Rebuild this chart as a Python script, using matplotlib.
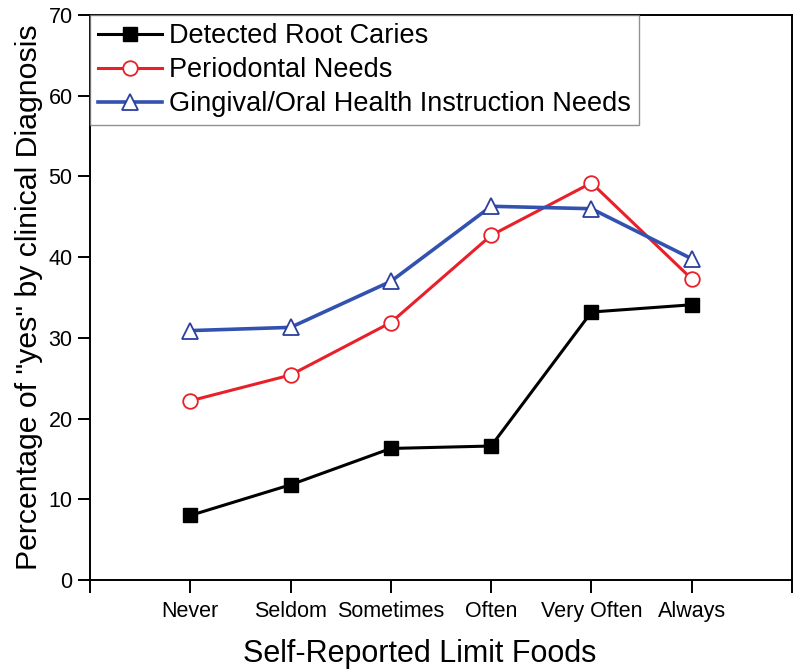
import matplotlib
matplotlib.use("Agg")
import matplotlib.pyplot as plt

plt.rcParams["font.family"] = ["Liberation Sans", "DejaVu Sans"]

categories = ["Never", "Seldom", "Sometimes", "Often", "Very Often", "Always"]
root_caries = [8.0, 11.8, 16.3, 16.6, 33.2, 34.1]
periodontal = [22.2, 25.4, 31.9, 42.7, 49.2, 37.3]
gingival = [30.9, 31.3, 37.0, 46.3, 46.0, 39.8]

x = list(range(1, len(categories) + 1))

fig = plt.figure(figsize=(8, 6.69), dpi=100)
ax = fig.add_axes([0.1125, 0.133, 0.8775, 0.8446])

ax.plot(x, root_caries, color="black", lw=2.2, marker="s", ms=9.5,
        mfc="black", mec="black", label="Detected Root Caries")
ax.plot(x, periodontal, color="#e8202a", lw=2.2, marker="o", ms=10.5,
        mfc="white", mec="#e8202a", mew=1.3, label="Periodontal Needs")
ax.plot(x, gingival, color="#3352b0", lw=2.6, marker="^", ms=12,
        mfc="white", mec="#2a3f9e", mew=1.3,
        label="Gingival/Oral Health Instruction Needs")

ax.set_xlim(0, 7)
ax.set_ylim(0, 70)
ax.set_xticks(range(0, 8))
ax.set_xticklabels([""] + categories + [""])
ax.set_yticks(range(0, 71, 10))
ax.tick_params(axis="both", direction="out", length=9, width=1.4, labelsize=15.5)
ax.tick_params(axis="x", pad=6)
for s in ax.spines.values():
    s.set_linewidth(1.4)

ax.set_xlabel("Self-Reported Limit Foods", fontsize=22)
ax.xaxis.set_label_coords(0.47, -0.105)
ax.set_ylabel('Percentage of "yes" by clinical Diagnosis', fontsize=21.8,
              labelpad=4)

leg = ax.legend(loc="upper left", borderaxespad=0, fontsize=19.5, fancybox=False,
                handlelength=2.35, handletextpad=0.28, labelspacing=0.3,
                borderpad=0.3)
leg.get_frame().set_edgecolor("#777777")
leg.get_frame().set_linewidth(1.0)

fig.savefig("out.png", dpi=100)
